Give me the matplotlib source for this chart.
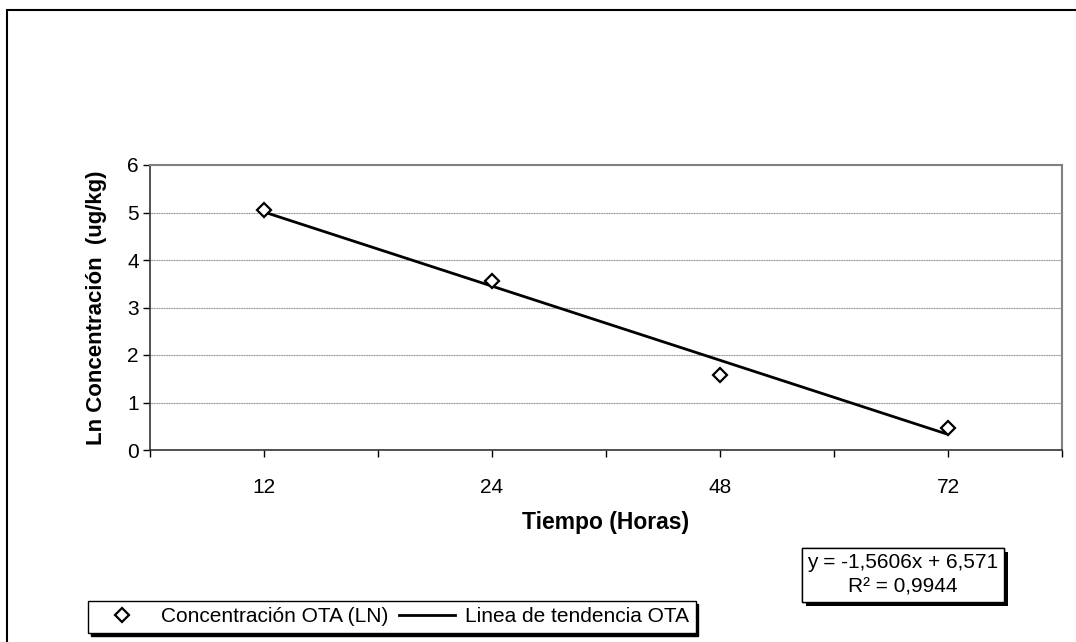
import matplotlib.pyplot as plt
import matplotlib.patheffects as pe
from matplotlib.patches import Rectangle

plt.rcParams['font.family'] = ['Liberation Sans', 'DejaVu Sans']

# data
horas = ['12', '24', '48', '72']
ln_conc = [5.05, 3.56, 1.57, 0.47]
pendiente = -1.5606
intercepto = 6.571
r2 = 0.9944

W, H = 1076, 642
fig = plt.figure(figsize=(W / 100, H / 100), dpi=100)

# outer chart frame (only top and left visible in the picture)
fig.patches.append(Rectangle((7 / W, -0.1), 1.2, 1 - 10 / H + 0.1, transform=fig.transFigure,
                             fill=False, edgecolor='black', linewidth=1.5))

ax = fig.add_axes([150 / W, 1 - 450 / H, (1062 - 150) / W, (450 - 165) / H])

pos = list(range(1, len(horas) + 1))
ax.plot(pos, ln_conc, linestyle='none', marker='D', markersize=7.5,
        markerfacecolor='white', markeredgecolor='black', markeredgewidth=1.6,
        label='Concentración OTA (LN)', zorder=4)
xt = [pos[0], pos[-1]]
ax.plot(xt, [pendiente * x + intercepto for x in xt], color='black', linewidth=2,
        label='Linea de tendencia OTA', zorder=3)

ax.set_xlim(0.5, len(horas) + 0.5)
ax.set_ylim(0, 6)
ax.set_xticks(pos)
ax.set_xticklabels(horas)
ax.set_xticks([p + 0.5 for p in range(len(horas) + 1)], minor=True)
ax.set_yticks(range(0, 7))
ax.tick_params(axis='both', which='both', direction='out', length=5, width=1, labelsize=15, colors='black')
ax.tick_params(axis='x', which='major', pad=15)
ax.tick_params(axis='y', pad=3)

ax.grid(axis='y', color='#8c8c8c', linewidth=0.8, linestyle=(0, (1, 0.5)))
ax.set_axisbelow(True)
for s in ['top', 'right']:
    ax.spines[s].set_color('#808080')
    ax.spines[s].set_linewidth(1.5)
for s in ['left', 'bottom']:
    ax.spines[s].set_color('#333333')
    ax.spines[s].set_linewidth(1.2)

fig.text(606 / W, 1 - 522 / H, 'Tiempo (Horas)', ha='center', va='center',
         fontsize=16.5, fontweight='bold')
fig.text(97 / W, 1 - 308 / H, 'Ln Concentración  (ug/kg)', ha='center', va='center',
         rotation=90, fontsize=16, fontweight='bold')

# legend at bottom left
h, l = ax.get_legend_handles_labels()
leg = fig.legend(h, l, loc='center left', bbox_to_anchor=(88 / W, 1 - 617 / H),
                 ncol=2, fontsize=15, frameon=True, fancybox=False, borderaxespad=0,
                 shadow={'color': 'black', 'alpha': 1}, handlelength=2.7,
                 columnspacing=0.5, handletextpad=0.5, borderpad=0.3)
leg.get_frame().set_edgecolor('black')
leg.get_frame().set_linewidth(1)

# trend line equation box
eq = 'y = -1,5606x + 6,571\nR² = 0,9944'
t = fig.text(903 / W, 1 - 575 / H, eq, ha='center', va='center', fontsize=15,
             multialignment='center', linespacing=1.35,
             bbox=dict(boxstyle='square,pad=0.25', facecolor='white', edgecolor='black', linewidth=1))
t.get_bbox_patch().set_path_effects([
    pe.withSimplePatchShadow(offset=(3, -3), shadow_rgbFace='black', alpha=1), pe.Normal()])

fig.savefig('out.png', dpi=100)
